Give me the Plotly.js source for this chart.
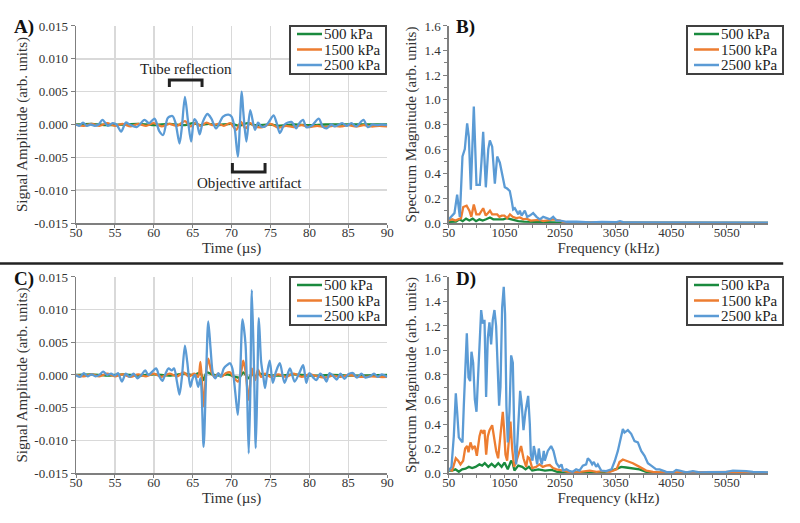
<!DOCTYPE html>
<html>
<head>
<meta charset="utf-8">
<script src="https://cdn.plot.ly/plotly-3.0.1.min.js"></script>
<style>html,body{margin:0;padding:0;background:#fff;}#chart{width:800px;height:523px;}</style>
</head>
<body>
<div id="chart"></div>
<script>
// ---------- series names ----------
const seriesNames = ['500 kPa', '1500 kPa', '2500 kPa'];

// ---------- Panel A: time signal (before) ----------
const timeA_500  = [50,52,54,56,58,60,62,64,65,66,67,68,70,71,72,73,75,76,78,80,82,85,90];
const ampA_500   = [0,0.0001,-0.0001,0,0.0001,-0.0001,0.0001,-0.0001,0.0002,-0.0001,0.0001,-0.0001,0.0001,-0.0002,0.0002,-0.0001,0,-0.0002,0,-0.0001,0,0,0];

const timeA_1500 = [50,51,52,53,54,55,56,57,58,59,60,61,62,63,64,64.7,65.4,66,66.8,67.5,68.3,69,69.8,70.6,71.2,71.8,72.4,73,74,75,76,77,78,79,80,81,82,83,84,85,86,87,88,89,90];
const ampA_1500  = [0,-0.0002,0.0001,-0.0002,0.0002,-0.0002,0.0001,-0.0003,0.0001,-0.0002,0.0002,-0.0003,0.0001,-0.0002,0.0005,-0.0003,0.0002,-0.0002,0.0003,-0.0001,0.0001,-0.0002,0.0002,-0.0008,0.0004,-0.0006,0.0002,-0.0003,-0.0004,0.0001,-0.0005,-0.0002,-0.0004,-0.0001,-0.0004,-0.0002,-0.0004,-0.0002,-0.0003,-0.0001,-0.0003,-0.0001,-0.0003,-0.0002,-0.0003];

const timeA_2500 = [50,50.4,50.9,51.4,51.9,52.4,52.9,53.4,54.1,54.7,55.2,55.8,56.4,56.9,57.8,58.8,59.4,60.1,60.7,61.2,61.8,62.4,62.8,63.3,63.6,64.0,64.4,64.8,65.2,65.5,65.9,66.3,66.9,67.4,68.0,68.9,69.6,70.0,70.4,70.8,71.3,71.5,71.9,72.4,73.0,73.4,73.8,74.3,74.8,75.4,75.8,76.2,76.8,77.7,78.3,78.7,79.2,79.6,80.3,81.2,81.7,82.2,82.8,83.3,84.2,84.8,85.4,86.0,86.95,87.5,88.1,88.7,89.3,90];
const ampA_2500  = [0,-0.0002,0.0003,-0.0002,0,-0.0002,0,0.0007,-0.0002,0.0002,0,-0.0011,0.0003,0,-0.0004,0.0007,0.0002,0.0009,-0.001,-0.0016,0.001,0.0013,0.0002,-0.0029,-0.0005,0.0042,0.0005,-0.0026,0.0008,0.0004,-0.0015,0.0004,0.0016,0.0009,-0.0006,0.0012,0.0015,0.0012,-0.0006,-0.0049,0.005,0.002,-0.0026,0.0022,-0.0008,0.0003,-0.0003,-0.0003,0.0004,0.0014,0.0002,-0.0013,0,0.0004,-0.0006,0.0002,0.0007,-0.0004,-0.0002,0.0009,-0.0003,-0.0006,0,-0.0003,0.0002,-0.0002,0.0002,-0.0003,0.0007,-0.0004,0,-0.0001,0,-0.0001];

// ---------- Panel C: time signal (after) ----------
const timeC_500  = [50,52,54,56,58,60,62,64,65,66,66.4,66.8,67.5,68.5,69.5,70.5,71,71.5,72.2,72.6,73,73.5,74.5,76,78,80,83,86,90];
const ampC_500   = [0,0.0001,-0.0001,0.0001,-0.0001,0.0001,-0.0001,0.0002,0,0.0003,-0.0008,0.0004,0.0001,-0.0001,0.0001,-0.0003,-0.0004,0.0004,-0.0005,0.0003,-0.0003,0.0002,0,-0.0001,0.0001,-0.0001,0,-0.0001,0];

const timeC_1500 = [50,51,52,53,54,55,56,57,58,59,60,61,62,63,63.8,64.5,65.2,65.7,66,66.4,66.7,67,67.4,67.8,68.3,68.8,69.3,69.8,70.3,70.8,71.2,71.5,71.8,72.2,72.6,73,73.4,73.8,74.3,75,76,77,78,79,80,81,82,83,84,85,86,87,88,89,90];
const ampC_1500  = [0,-0.0002,0.0001,-0.0002,0.0002,-0.0002,0.0001,-0.0003,0.0001,-0.0002,0.0002,-0.0003,0.0002,-0.0002,0.0004,-0.0002,0.0002,-0.0003,0.002,-0.0048,0,0.0025,0.0005,-0.0003,0.0002,-0.0002,0.0003,0.0004,-0.0004,-0.001,0.0003,0.0022,0.0005,-0.0038,0.001,-0.0008,0.0008,-0.0003,0.0002,-0.0003,0.0001,-0.0003,0.0002,-0.0003,0.0001,-0.0002,-0.0004,-0.0001,-0.0003,0,-0.0002,-0.0003,-0.0002,-0.0003,-0.0003];

const timeC_2500 = [50,50.5,51,51.5,52,52.5,53,53.5,54,54.5,55,55.4,55.9,56.4,56.9,57.4,57.9,58.4,58.9,59.3,59.8,60.3,60.7,61.1,61.5,61.9,62.3,62.6,63.0,63.3,63.6,64.0,64.3,64.7,65.0,65.3,65.7,66.0,66.4,66.7,67.0,67.3,67.6,67.9,68.3,68.6,69.0,69.4,69.8,70.1,70.5,70.8,71.1,71.4,71.6,71.8,72.0,72.2,72.4,72.6,72.9,73.1,73.3,73.5,73.8,74.1,74.3,74.6,74.9,75.3,75.7,76.2,76.8,77.5,78.1,78.7,79.2,79.6,80.0,80.5,80.9,81.4,81.9,82.2,82.6,83.1,83.5,84.0,84.5,85.0,85.6,86.1,86.7,87.2,87.8,88.3,88.8,89.3,90];
const ampC_2500  = [0,-0.0003,0.0003,-0.0002,0.0001,-0.0002,0,0.0005,0,0.0002,-0.0001,0.0003,-0.001,0.0002,-0.0003,0.0002,-0.0005,0,0.0007,0,0.0005,0.001,-0.0002,-0.0009,0.0002,0.001,0.0007,0.001,-0.0012,-0.003,-0.0005,0.0045,0.002,-0.0018,-0.0005,0,-0.0018,-0.0005,-0.011,-0.001,0.0082,0.004,0.0002,-0.0005,0.0003,-0.0003,0.001,0.0015,0.0018,0.001,-0.003,-0.0061,0,0.0085,0.007,0.0045,-0.003,-0.012,-0.003,0.013,0,-0.0112,-0.002,0.0087,0.002,-0.0005,-0.002,0.0005,0.0022,-0.0012,0.0005,0.0018,-0.0012,0.001,-0.001,0.0003,0.0015,-0.0012,0.0003,-0.0004,-0.0008,0.0002,-0.0004,-0.001,0.0003,-0.0002,-0.0007,0.0002,-0.0006,0.0001,0.0003,-0.0004,0.0002,-0.0004,-0.0002,0.0002,-0.0003,0.0001,-0.0003];

// ---------- Panel B: spectrum (before) ----------
const freqB_500  = [50,120,180,240,300,360,420,480,540,600,660,720,790,850,910,970,1030,1090,1130,1180,1240,1300,1400,1500,1600,1750,1900,2100,2400,5790];
const magB_500   = [0.01,0.01,0.012,0.03,0.015,0.035,0.02,0.035,0.015,0.03,0.02,0.03,0.045,0.03,0.03,0.035,0.03,0.04,0.035,0.03,0.02,0.015,0.012,0.01,0.008,0.005,0.004,0.003,0.002,0.001];

const freqB_1500 = [50,110,170,230,270,310,370,420,455,500,545,600,668,715,760,790,830,880,920,960,1000,1050,1100,1150,1200,1260,1330,1390,1450,1520,1600,1680,1750,1830,1930,2046,2120,2300,2600,3000,5790];
const magB_1500  = [0.02,0.03,0.02,0.03,0.04,0.13,0.14,0.10,0.05,0.15,0.07,0.07,0.12,0.06,0.08,0.10,0.07,0.07,0.07,0.05,0.06,0.06,0.04,0.07,0.05,0.04,0.045,0.03,0.035,0.02,0.02,0.025,0.015,0.02,0.03,0.02,0.005,0.004,0.003,0.002,0.001];

const freqB_2500 = [50,98,152,200,248,296,338,380,410,446,470,500,548,608,638,668,716,760,788,830,878,920,968,1009,1057,1099,1147,1177,1207,1237,1267,1300,1327,1360,1417,1460,1507,1567,1627,1687,1747,1807,1870,1927,1987,2050,2167,2350,2600,2800,3050,3127,3200,3500,4000,4500,5000,5500,5790];
const magB_2500  = [0.03,0.05,0.08,0.23,0.05,0.54,0.6,0.81,0.7,0.27,0.55,0.945,0.31,0.31,0.5,0.74,0.29,0.6,0.67,0.62,0.32,0.54,0.49,0.40,0.29,0.28,0.26,0.19,0.11,0.12,0.10,0.07,0.10,0.06,0.10,0.05,0.06,0.08,0.05,0.03,0.05,0.04,0.03,0.05,0.02,0.02,0.01,0.01,0.005,0.008,0.006,0.015,0.005,0.004,0.004,0.004,0.005,0.003,0.002];

// ---------- Panel D: spectrum (after) ----------
const freqD_500  = [50,110,170,230,290,350,410,470,530,600,650,697,760,820,880,940,1000,1051,1110,1171,1200,1230,1300,1370,1430,1490,1550,1660,1780,1900,2000,2100,2800,2980,3100,3150,3240,3360,3480,3600,3720,4000,5790];
const magD_500   = [0.02,0.02,0.03,0.01,0.03,0.035,0.05,0.04,0.05,0.07,0.06,0.08,0.05,0.075,0.05,0.08,0.05,0.085,0.03,0.1,0.08,0.02,0.06,0.05,0.03,0.05,0.02,0.03,0.02,0.025,0.01,0.005,0.005,0.02,0.04,0.05,0.045,0.04,0.03,0.01,0.005,0.002,0.001];

const freqD_1500 = [50,110,176,218,260,308,344,380,404,440,476,518,554,602,632,662,692,722,752,782,830,860,902,937,967,997,1021,1045,1069,1099,1135,1159,1189,1225,1267,1327,1350,1393,1441,1471,1501,1549,1620,1680,1740,1800,1866,1926,1986,2106,2200,2346,2466,2586,2706,2826,2946,3066,3120,3180,3240,3360,3480,3600,3720,3840,4080,4600,5200,5790];
const magD_1500  = [0.03,0.02,0.12,0.1,0.07,0.1,0.2,0.22,0.17,0.25,0.2,0.22,0.14,0.3,0.35,0.33,0.35,0.15,0.3,0.35,0.39,0.3,0.18,0.12,0.25,0.4,0.5,0.35,0.15,0.1,0.3,0.42,0.2,0.05,0.1,0.2,0.22,0.12,0.05,0.13,0.12,0.04,0.05,0.07,0.05,0.06,0.065,0.04,0.03,0.02,0.01,0.005,0.01,0.02,0.01,0.015,0.01,0.03,0.09,0.11,0.1,0.08,0.05,0.02,0.01,0.005,0.005,0.008,0.01,0.002];

const freqD_2500 = [50,98,140,176,200,230,260,296,320,344,374,404,434,458,488,518,548,578,608,632,662,692,721,751,781,811,841,871,901,931,955,979,1009,1038,1062,1086,1111,1141,1171,1201,1231,1261,1291,1333,1363,1393,1429,1477,1507,1525,1555,1579,1609,1639,1669,1693,1723,1758,1776,1830,1890,1932,1986,2034,2076,2106,2166,2226,2280,2340,2400,2460,2520,2550,2592,2628,2658,2700,2730,2790,2880,2976,3036,3090,3150,3180,3210,3270,3330,3390,3450,3510,3570,3630,3690,3780,3840,3960,4080,4140,4200,4320,4440,4560,4740,5040,5160,5280,5400,5520,5680,5790];
const magD_2500  = [0.02,0.05,0.3,0.65,0.5,0.29,0.27,0.25,0.55,0.85,1.14,0.78,0.75,0.99,0.9,0.6,0.5,0.8,1.1,1.33,1.22,1.25,0.62,1.1,1.23,1.05,1.25,1.33,1.2,0.8,0.55,0.7,1.35,1.52,1.3,0.55,0.25,0.5,0.96,0.9,0.25,0.07,0.3,0.67,0.55,0.35,0.5,0.63,0.4,0.15,0.1,0.22,0.15,0.07,0.2,0.12,0.07,0.18,0.1,0.18,0.22,0.18,0.08,0.05,0.07,0.02,0.03,0.015,0.01,0.03,0.02,0.06,0.07,0.12,0.1,0.07,0.09,0.05,0.07,0.02,0.015,0.03,0.1,0.18,0.3,0.36,0.33,0.35,0.32,0.26,0.25,0.18,0.14,0.08,0.06,0.03,0.03,0.01,0.005,0.025,0.02,0.005,0.015,0.005,0.007,0.01,0.02,0.02,0.015,0.01,0.01,0.005];

// ---------- ticks ----------
const timeTicks = [50,55,60,65,70,75,80,85,90];
const ampTicks = [-0.015,-0.010,-0.005,0,0.005,0.010,0.015];
const ampTickText = ['-0.015','-0.010','-0.005','0.000','0.005','0.010','0.015'];
const freqTicks = [50,1050,2050,3050,4050,5050];
const magTicks = [0,0.2,0.4,0.6,0.8,1.0,1.2,1.4,1.6];
const magTickText = ['0.0','0.2','0.4','0.6','0.8','1.0','1.2','1.4','1.6'];

// ---------- styling ----------
const colors = ['#1a8a3e', '#ed7d31', '#5b9bd5'];
const FONT = '"Liberation Serif", "Times New Roman", Times, serif';
const axisCol = '#7f7f7f';
const W = 800, H = 523;

function tr(x, y, i, xa, ya, smooth) {
  return {x: x, y: y, type: 'scatter', mode: 'lines', name: seriesNames[i],
    xaxis: xa, yaxis: ya, showlegend: false,
    line: {color: colors[i], width: 2.3, shape: smooth ? 'spline' : 'linear', smoothing: 0.8}};
}

const data = [
  tr(timeA_500, ampA_500, 0, 'x', 'y', true),
  tr(timeA_1500, ampA_1500, 1, 'x', 'y', true),
  tr(timeA_2500, ampA_2500, 2, 'x', 'y', true),
  tr(freqB_500, magB_500, 0, 'x2', 'y2', false),
  tr(freqB_1500, magB_1500, 1, 'x2', 'y2', false),
  tr(freqB_2500, magB_2500, 2, 'x2', 'y2', false),
  tr(timeC_500, ampC_500, 0, 'x3', 'y3', true),
  tr(timeC_1500, ampC_1500, 1, 'x3', 'y3', true),
  tr(timeC_2500, ampC_2500, 2, 'x3', 'y3', true),
  tr(freqD_500, magD_500, 0, 'x4', 'y4', false),
  tr(freqD_1500, magD_1500, 1, 'x4', 'y4', false),
  tr(freqD_2500, magD_2500, 2, 'x4', 'y4', false)
];

const tickFont = {family: FONT, size: 13, color: '#333'};
const titleFont = {family: FONT, size: 15, color: '#333'};

function timeX(dom, anchor) {
  return {domain: dom, anchor: anchor, range: [50, 90], tickvals: timeTicks,
    ticks: 'outside', ticklen: 3, tickcolor: axisCol, tickwidth: 1, ticklabelstandoff: -6,
    showline: true, linecolor: axisCol, linewidth: 1.5,
    showgrid: true, gridcolor: '#d9d9d9', gridwidth: 1.5, zeroline: false,
    tickfont: tickFont,
    title: {text: 'Time (µs)', font: titleFont, standoff: 0}};
}
function ampY(dom, anchor) {
  return {domain: dom, anchor: anchor, range: [-0.015, 0.015], tickvals: ampTicks, ticktext: ampTickText,
    ticks: 'outside', ticklen: 4, tickcolor: axisCol, tickwidth: 1,
    showline: true, linecolor: axisCol, linewidth: 1.5,
    showgrid: true, gridcolor: '#d9d9d9', gridwidth: 1.5, zeroline: false,
    tickfont: tickFont,
    title: {text: 'Signal Amplitude (arb. units)', font: titleFont, standoff: 3}};
}
function freqX(dom, anchor) {
  return {domain: dom, anchor: anchor, range: [50, 5790], tickvals: freqTicks,
    ticks: 'outside', ticklen: 3, tickcolor: axisCol, tickwidth: 1, ticklabelstandoff: -6,
    minor: {tick0: 50, dtick: 250, ticks: 'outside', ticklen: 3, tickcolor: axisCol, showgrid: false},
    showline: true, linecolor: axisCol, linewidth: 1.5,
    showgrid: false, zeroline: false,
    tickfont: tickFont,
    title: {text: 'Frequency (kHz)', font: titleFont, standoff: 0}};
}
function magY(dom, anchor) {
  return {domain: dom, anchor: anchor, range: [0, 1.6], tickvals: magTicks, ticktext: magTickText,
    ticks: 'outside', ticklen: 4, tickcolor: axisCol, tickwidth: 1,
    minor: {dtick: 0.1, tick0: 0, ticks: 'outside', ticklen: 3, tickcolor: axisCol, showgrid: false},
    showline: true, linecolor: axisCol, linewidth: 1.5,
    showgrid: false, zeroline: false,
    tickfont: tickFont,
    title: {text: 'Spectrum Magnitude (arb. units)', font: titleFont, standoff: 4}};
}

// ---------- custom compact legends (box left/top in px) ----------
const legendBoxes = [[290, 26], [687, 26], [290, 277], [687, 277]];
const shapes = [], annotations = [];
legendBoxes.forEach(function (b) {
  const L = b[0], T = b[1];
  shapes.push({type: 'rect', xref: 'paper', yref: 'paper', layer: 'above',
    x0: L / W, x1: (L + 96) / W, y0: 1 - T / H, y1: 1 - (T + 48) / H,
    line: {color: '#404040', width: 2}, fillcolor: '#fff'});
  seriesNames.forEach(function (nm, i) {
    const cy = T + 8 + i * 15.5;
    shapes.push({type: 'line', xref: 'paper', yref: 'paper', layer: 'above',
      x0: (L + 7) / W, x1: (L + 32) / W, y0: 1 - cy / H, y1: 1 - cy / H,
      line: {color: colors[i], width: 2.5}});
    annotations.push({xref: 'paper', yref: 'paper', x: (L + 32) / W, y: 1 - cy / H,
      xanchor: 'left', yanchor: 'middle', text: nm, showarrow: false,
      font: {family: FONT, size: 15, color: '#222'}});
  });
});

shapes.push(
  {type: 'line', xref: 'paper', yref: 'paper', x0: 0, x1: 0.979, y0: 0.4962, y1: 0.4962,
   line: {color: '#222', width: 2.5}},
  {type: 'path', xref: 'x', yref: 'y', path: 'M 62,0.0057 L 62,0.00678 L 66.2,0.00678 L 66.2,0.0057',
   line: {color: '#222', width: 3}},
  {type: 'path', xref: 'x', yref: 'y', path: 'M 70.1,-0.00586 L 70.1,-0.00723 L 74.3,-0.00723 L 74.3,-0.00586',
   line: {color: '#222', width: 3}}
);

const panelFont = {family: FONT, size: 19, color: '#111'};
annotations.push(
  {xref: 'paper', yref: 'paper', x: 0.015, y: 1 - 14/H, xanchor: 'left', yanchor: 'top', text: '<b>A)</b>', showarrow: false, font: panelFont},
  {xref: 'paper', yref: 'paper', x: 0.567, y: 1 - 14/H, xanchor: 'left', yanchor: 'top', text: '<b>B)</b>', showarrow: false, font: panelFont},
  {xref: 'paper', yref: 'paper', x: 0.015, y: 1 - 266/H, xanchor: 'left', yanchor: 'top', text: '<b>C)</b>', showarrow: false, font: panelFont},
  {xref: 'paper', yref: 'paper', x: 0.567, y: 1 - 266/H, xanchor: 'left', yanchor: 'top', text: '<b>D)</b>', showarrow: false, font: panelFont},
  {xref: 'x', yref: 'y', x: 64.2, y: 0.00845, text: 'Tube reflection', showarrow: false,
   font: {family: FONT, size: 15, color: '#222'}},
  {xref: 'x', yref: 'y', x: 72.25, y: -0.0089, text: 'Objective artifact', showarrow: false,
   font: {family: FONT, size: 15, color: '#222'}}
);

const topDom = [0.5736, 0.9503], botDom = [0.0956, 0.4704];
const leftDom = [0.095, 0.484], rightDom = [0.561, 0.96];

const layout = {
  width: W, height: H,
  margin: {l: 0, r: 0, t: 0, b: 0},
  paper_bgcolor: '#fff', plot_bgcolor: '#fff',
  font: {family: FONT, color: '#333'},
  showlegend: false,
  xaxis: timeX(leftDom, 'y'), yaxis: ampY(topDom, 'x'),
  xaxis2: freqX(rightDom, 'y2'), yaxis2: magY(topDom, 'x2'),
  xaxis3: timeX(leftDom, 'y3'), yaxis3: ampY(botDom, 'x3'),
  xaxis4: freqX(rightDom, 'y4'), yaxis4: magY(botDom, 'x4'),
  shapes: shapes,
  annotations: annotations
};

Plotly.newPlot('chart', data, layout, {displayModeBar: false, staticPlot: true});
</script>
</body>
</html>
